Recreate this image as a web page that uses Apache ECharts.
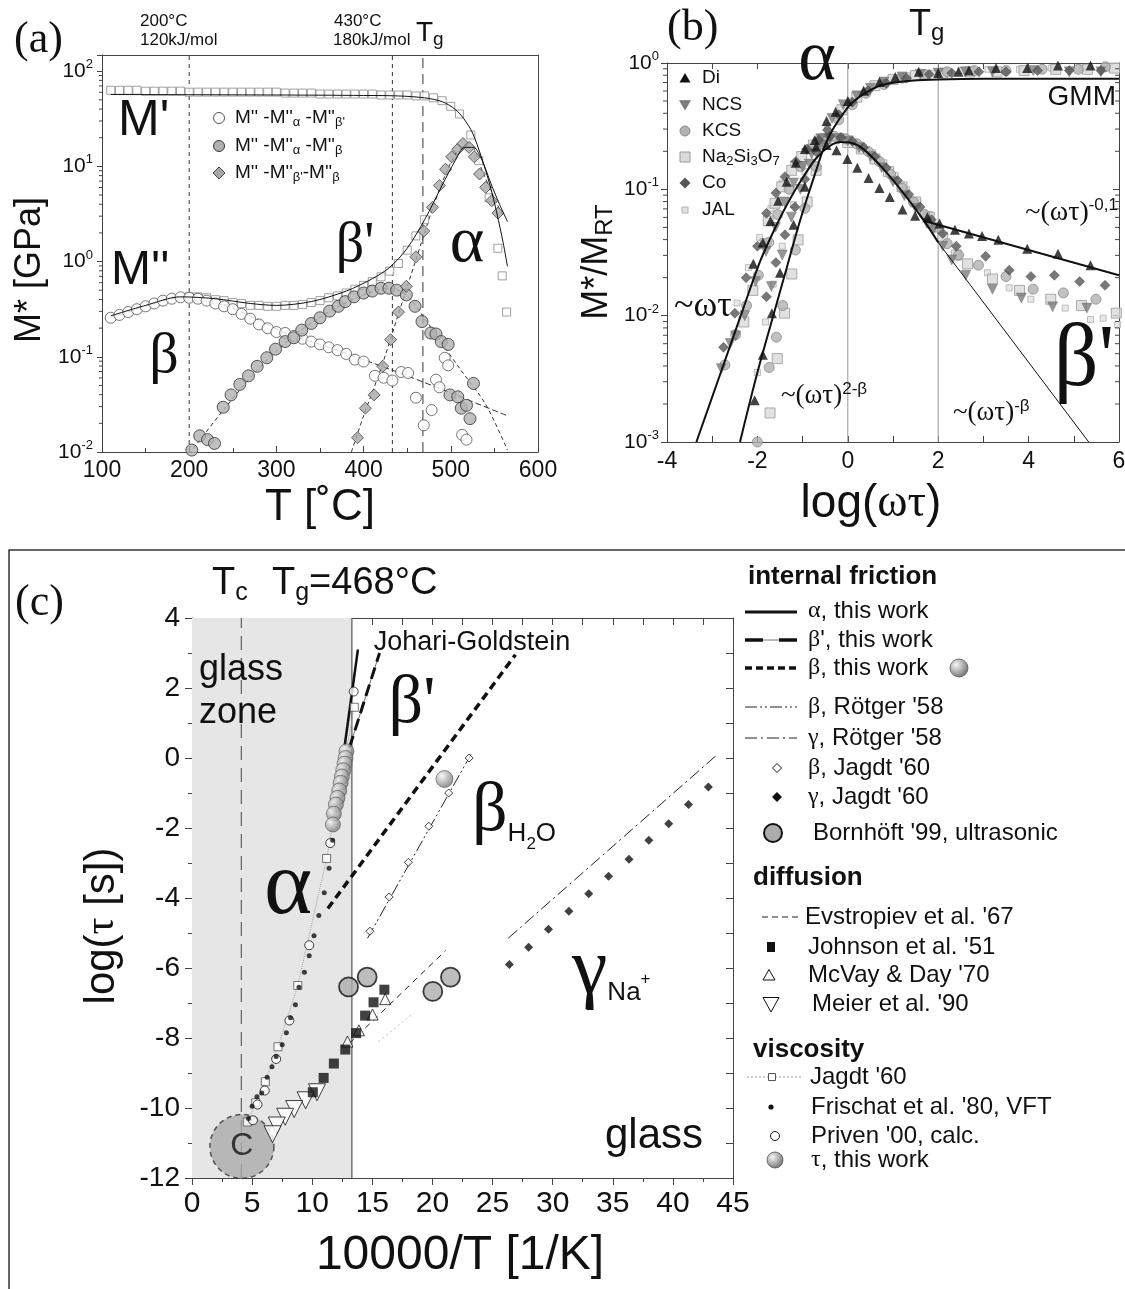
<!DOCTYPE html>
<html>
<head>
<meta charset="utf-8">
<script src="https://cdn.jsdelivr.net/npm/echarts@6/dist/echarts.min.js"></script>
<style>
html,body{margin:0;padding:0;background:#ffffff;}
#chart{width:1125px;height:1289px;}
</style>
</head>
<body>
<div id="chart"></div>
<script>
// ================= DATA =================
// ---- Panel (a): T [°C] vs log10(M*/GPa) ----
const aMpSq = [[110,1.80],[120,1.80],[130,1.80],[140,1.80],[150,1.79],[160,1.79],[170,1.79],[180,1.79],[190,1.79],[200,1.78],[210,1.78],[220,1.78],[230,1.78],[240,1.78],[250,1.78],[260,1.78],[270,1.78],[280,1.78],[290,1.78],[300,1.78],[310,1.77],[320,1.77],[330,1.77],[340,1.77],[350,1.76],[360,1.76],[370,1.76],[380,1.76],[390,1.76],[400,1.76],[410,1.76],[420,1.75],[430,1.75],[440,1.75],[450,1.75],[460,1.74],[470,1.74],[480,1.72],[490,1.69],[500,1.63],[510,1.55],[523,1.33],[532,1.06],[544,0.67],[554,0.14],[559,-0.15],[564,-0.53]];
const aMppSq = [[200,-0.37],[210,-0.37],[220,-0.38],[230,-0.40],[240,-0.41],[250,-0.43],[260,-0.44],[270,-0.46],[280,-0.46],[290,-0.47],[300,-0.47],[310,-0.46],[320,-0.46],[330,-0.45],[340,-0.43],[350,-0.41],[360,-0.38],[370,-0.36],[380,-0.33],[390,-0.29],[400,-0.25],[410,-0.21],[420,-0.16],[430,-0.10],[440,-0.02],[450,0.12],[460,0.27],[470,0.44]];
const aBetaOpen = [[110,-0.59],[120,-0.56],[130,-0.53],[140,-0.50],[150,-0.47],[160,-0.44],[170,-0.41],[180,-0.39],[190,-0.375],[200,-0.38],[210,-0.39],[220,-0.41],[230,-0.44],[240,-0.47],[250,-0.50],[260,-0.55],[270,-0.60],[280,-0.66],[290,-0.70],[300,-0.74],[310,-0.75],[320,-0.78],[330,-0.81],[340,-0.84],[350,-0.87],[360,-0.90],[370,-0.93],[380,-0.97],[390,-1.03],[400,-1.05],[413,-1.20],[423,-1.22],[433,-1.25],[443,-1.16],[451,-1.17],[460,-1.43],[469,-1.72],[478,-1.56],[483,-1.24],[487,-1.32],[493,-1.01],[497,-1.09],[513,-1.82],[518,-1.87]];
const aBetaPGray = [[203,-1.98],[212,-1.83],[221,-1.87],[229,-1.91],[239,-1.53],[248,-1.40],[258,-1.29],[268,-1.20],[278,-1.10],[289,-1.01],[299,-0.92],[310,-0.84],[320,-0.80],[329,-0.72],[340,-0.65],[350,-0.59],[361,-0.52],[371,-0.47],[379,-0.42],[389,-0.37],[400,-0.33],[410,-0.31],[420,-0.28],[429,-0.28],[438,-0.30],[449,-0.35],[459,-0.47],[467,-0.63],[477,-0.75],[483,-0.76],[489,-0.84],[497,-0.87],[499,-1.40],[508,-1.42],[512,-1.54],[518,-1.51],[522,-1.65],[526,-1.28]];
const aAlphaDiam = [[393,-1.85],[402,-1.54],[412,-1.40],[422,-1.10],[431,-0.82],[440,-0.53],[449,-0.26],[460,0.05],[469,0.32],[479,0.57],[487,0.80],[494,0.97],[501,1.10],[508,1.18],[514,1.24],[521,1.20],[527,1.10],[533,0.92],[540,0.78],[547,0.64],[554,0.51]];
const aFitMp = [[110,1.755],[300,1.75],[400,1.745],[440,1.74],[470,1.72],[490,1.68],[505,1.60],[515,1.50],[525,1.35],[535,1.10],[545,0.80],[553,0.50],[560,0.20],[565,-0.05]];
const aFitMpp = [[110,-0.57],[150,-0.46],[190,-0.37],[230,-0.39],[270,-0.44],[300,-0.46],[340,-0.42],[380,-0.31],[410,-0.18],[430,-0.06],[450,0.14],[470,0.44],[490,0.80],[505,1.06],[516,1.20],[526,1.20],[536,1.06],[546,0.82],[556,0.60],[565,0.42]];
const aFitBeta = [[110,-0.59],[150,-0.47],[190,-0.38],[230,-0.43],[270,-0.57],[310,-0.75],[350,-0.87],[400,-1.03],[450,-1.20],[500,-1.38],[565,-1.62]];
const aFitBetaP = [[200,-2.02],[240,-1.55],[280,-1.12],[320,-0.78],[360,-0.53],[400,-0.35],[430,-0.28],[450,-0.36],[470,-0.60],[490,-0.86],[510,-1.12],[540,-1.50],[565,-1.98]];
const aFitAlpha = [[386,-2.0],[400,-1.62],[420,-1.12],[440,-0.55],[460,0.02],[480,0.58],[500,1.04],[514,1.20],[524,1.20],[535,0.98],[548,0.70],[560,0.48]];
const aVLineT = [200, 433, 468];

// ---- Panel (b): log(ωτ) vs log10(M*/M_RT) ----
const bFitMp = [[-2.385,-3],[-2.0,-2.45],[-1.57,-1.90],[-1.35,-1.62],[-1.1,-1.30],[-0.91,-1.08],[-0.7,-0.85],[-0.55,-0.69],[-0.4,-0.57],[-0.245,-0.475],[-0.1,-0.40],[0.05,-0.33],[0.25,-0.27],[0.42,-0.23],[0.7,-0.18],[0.93,-0.16],[1.4,-0.14],[2.0,-0.13],[3.0,-0.125],[6.0,-0.125]];
const bFitMpp = [[-3.35,-3],[-2.8,-2.44],[-2.31,-1.94],[-1.94,-1.57],[-1.6,-1.30],[-1.3,-1.09],[-1.0,-0.91],[-0.69,-0.75],[-0.39,-0.655],[-0.17,-0.625],[0.05,-0.63],[0.34,-0.68],[0.79,-0.84],[1.23,-1.03],[1.67,-1.24],[2.0,-1.42]];
const bFitSlow = [[1.7,-1.25],[6.0,-1.68]];
const bFitBeta = [[2.0,-1.42],[5.33,-3.0]];
const bVLines = [0, 2];
const di = [[-2.09,-1.59],[-1.88,-1.42],[-1.71,-1.25],[-1.54,-1.09],[-1.35,-0.94],[-1.15,-0.79],[-0.95,-0.68],[-0.73,-0.61],[-0.47,-0.65],[-0.25,-0.69],[-0.01,-0.76],[0.21,-0.83],[0.46,-0.91],[0.70,-0.99],[0.93,-1.06],[1.21,-1.16],[1.49,-1.21],[1.76,-1.22],[2.03,-1.27],[2.37,-1.32],[2.68,-1.35],[2.97,-1.37],[3.33,-1.40],[3.97,-1.47],[4.65,-1.51],[5.37,-1.60],
  [-2.06,-2.67],[-1.88,-2.31],[-1.68,-1.98],[-1.50,-1.66],[-1.2,-1.28],[-0.95,-0.98],[-0.7,-0.66],[-0.47,-0.46],[-0.27,-0.385],[0.0,-0.30],[0.35,-0.22],[0.7,-0.15],[1.05,-0.11],[1.57,-0.07],[2.0,-0.08],[2.45,-0.07],[2.68,-0.06],[3.28,-0.04],[3.97,-0.04],[4.65,-0.02],[5.37,-0.02]];
const ncs = [[-2.8,-2.42],[-2.6,-2.22],[-2.48,-2.16],[-2.28,-2.0],[-2.04,-1.73],[-1.81,-1.49],[-1.6,-1.30],[-1.4,-1.10],[-1.2,-0.95],[-1.0,-0.82],[-0.8,-0.72],[-0.6,-0.65],[-0.4,-0.60],[-0.2,-0.60],[0.0,-0.62],[0.25,-0.67],[0.5,-0.74],[0.75,-0.83],[1.0,-0.94],[1.25,-1.05],[1.5,-1.15],[1.75,-1.27],[1.89,-1.32],[2.1,-1.45],[2.3,-1.56],[2.61,-1.68],[3.2,-1.79],[3.84,-1.86],[4.53,-1.93],[5.29,-1.94],
  [-1.69,-1.77],[-1.45,-1.52],[-1.25,-1.22],[-1.05,-1.0],[-0.85,-0.80],[-0.6,-0.60],[-0.35,-0.44],[-0.1,-0.33],[0.2,-0.26],[0.5,-0.20],[0.8,-0.15],[1.2,-0.11],[1.6,-0.09],[2.0,-0.08],[2.6,-0.07],[3.2,-0.07],[4.1,-0.06],[4.9,-0.07],[5.6,-0.07]];
const kcs = [[-2.72,-2.39],[-2.48,-2.15],[-2.24,-1.92],[-1.98,-1.68],[-1.75,-1.42],[-1.55,-1.20],[-1.3,-1.0],[-1.05,-0.82],[-0.8,-0.68],[-0.55,-0.60],[-0.3,-0.58],[-0.05,-0.60],[0.2,-0.64],[0.45,-0.70],[0.7,-0.78],[0.95,-0.88],[1.2,-0.99],[1.45,-1.10],[1.7,-1.20],[1.95,-1.30],[2.2,-1.43],[2.45,-1.52],[2.89,-1.60],[3.5,-1.69],[4.1,-1.79],[4.77,-1.82],[5.49,-1.87],
  [-2.0,-3.0],[-1.74,-2.41],[-1.58,-2.17],[-1.44,-1.92],[-1.16,-1.48],[-0.95,-1.15],[-0.7,-0.82],[-0.45,-0.60],[-0.2,-0.45],[0.1,-0.33],[0.4,-0.24],[0.8,-0.17],[1.2,-0.12],[1.7,-0.09],[2.2,-0.07],[2.8,-0.06],[3.5,-0.06],[4.3,-0.05],[5.1,-0.05],[5.7,-0.03]];
const nas = [[-2.3,-2.05],[-2.1,-1.80],[-1.83,-1.43],[-1.76,-1.25],[-1.61,-1.11],[-1.46,-0.98],[-1.24,-0.85],[-1.02,-0.74],[-0.76,-0.65],[-0.54,-0.60],[-0.3,-0.60],[0.0,-0.63],[0.3,-0.68],[0.6,-0.76],[0.9,-0.86],[1.2,-0.98],[1.5,-1.10],[1.8,-1.22],[2.1,-1.38],[2.4,-1.52],[2.65,-1.59],[3.2,-1.71],[3.8,-1.80],[4.49,-1.87],[5.17,-1.92],[5.94,-1.98],
  [-1.72,-2.77],[-1.56,-2.34],[-1.40,-1.98],[-1.24,-1.67],[-1.1,-1.40],[-0.9,-1.10],[-0.7,-0.85],[-0.5,-0.62],[-0.13,-0.37],[0.2,-0.27],[0.6,-0.18],[1.0,-0.13],[1.5,-0.10],[2.1,-0.08],[2.7,-0.07],[3.3,-0.07],[3.9,-0.06],[4.6,-0.05],[5.3,-0.05],[5.9,-0.04]];
const co = [[-2.75,-2.25],[-2.5,-1.98],[-2.25,-1.70],[-2.0,-1.45],[-1.8,-1.19],[-1.59,-1.03],[-1.39,-0.90],[-1.15,-0.78],[-0.9,-0.68],[-0.65,-0.61],[-0.4,-0.58],[-0.15,-0.59],[0.1,-0.62],[0.35,-0.67],[0.6,-0.74],[0.85,-0.83],[1.1,-0.93],[1.35,-1.04],[1.6,-1.14],[1.85,-1.24],[2.1,-1.35],[2.4,-1.45],[3.05,-1.53],[3.57,-1.64],[4.05,-1.69],[4.57,-1.68],[5.13,-1.73],[5.69,-1.76],
  [-1.8,-1.85],[-1.59,-1.58],[-1.39,-1.36],[-1.17,-1.14],[-0.95,-0.92],[-0.7,-0.70],[-0.45,-0.53],[-0.2,-0.41],[0.1,-0.31],[0.45,-0.22],[0.85,-0.16],[1.3,-0.12],[1.8,-0.09],[2.3,-0.08],[2.9,-0.07],[3.5,-0.07],[4.2,-0.06],[4.9,-0.06],[5.6,-0.06]];
const jal = [[-2.45,-1.90],[-2.2,-1.62],[-1.95,-1.38],[-1.7,-1.15],[-1.45,-0.95],[-1.2,-0.80],[-0.95,-0.70],[-0.7,-0.62],[-0.45,-0.58],[-0.2,-0.58],[0.05,-0.60],[0.3,-0.65],[0.55,-0.71],[0.8,-0.79],[1.05,-0.89],[1.3,-1.0],[1.55,-1.10],[1.8,-1.20],[2.05,-1.33],[2.45,-1.53],[3.09,-1.66],[3.57,-1.78],[4.05,-1.87],[4.81,-1.94],[5.37,-2.03],[5.65,-2.02],[5.97,-2.07],
  [-2.0,-2.45],[-1.82,-2.05],[-1.65,-1.75],[-1.45,-1.45],[-1.2,-1.12],[-0.95,-0.86],[-0.7,-0.64],[-0.45,-0.50],[-0.2,-0.40],[0.1,-0.30],[0.4,-0.22],[0.8,-0.15],[1.3,-0.10],[1.9,-0.08],[2.5,-0.06],[3.1,-0.05],[3.8,-0.05],[4.5,-0.04],[5.2,-0.04],[5.8,-0.04]];

// ---- Panel (c): 10000/T [1/K] vs log10(tau/s) ----
const cGlassZone = [0, 13.3];
const cTc = 4.1;
const cAlphaLine = [[12.7,0.35],[13.8,3.1]];
const cBetaPLine = [[13.1,0.3],[15.6,3.0]];
const cBetaLine = [[11.3,-4.3],[26.9,2.95]];
const cBetaRoetger = [[14.6,-5.15],[23.2,0.1]];
const cGammaRoetger = [[26.3,-5.15],[43.7,0.1]];
const cEvstropiev = [[13.1,-8.15],[21.1,-5.5]];
const cEvstropievFaint = [[15.5,-8.1],[18.4,-7.3]];
const cBetaJagdt = [[14.8,-4.95],[16.4,-3.97],[18.0,-2.98],[19.7,-1.95],[21.35,-1.0],[23.05,0.0]];
const cGammaJagdt = [[26.4,-5.9],[28.0,-5.41],[29.65,-4.89],[31.35,-4.38],[33.0,-3.88],[34.65,-3.38],[36.35,-2.89],[38.0,-2.35],[39.65,-1.88],[41.3,-1.33],[42.95,-0.83]];
const cBornhoeft = [[13.02,-6.54],[14.57,-6.26],[20.03,-6.67],[21.5,-6.26]];
const cJohnson = [[16.0,-6.62],[15.1,-6.98],[14.4,-7.36],[13.65,-7.86],[12.75,-8.33],[11.8,-8.73],[10.95,-9.14],[10.05,-9.55]];
const cMcVay = [[16.07,-6.89],[15.02,-7.33],[13.88,-7.78],[12.93,-8.1]];
const cMeier = [[10.4,-9.55],[9.45,-9.78],[8.5,-10.03],[7.75,-10.25],[7.05,-10.5],[6.7,-10.75]];
const cJagdtVisc = [[13.5,1.45],[11.2,-2.87],[8.8,-6.5],[7.15,-8.25],[6.1,-9.25],[5.3,-9.85],[4.6,-10.4]];
const cFrischat = [[11.7,-2.35],[11.4,-3.15],[11.0,-3.85],[10.55,-4.5],[10.15,-5.08],[9.75,-5.65],[9.35,-6.12],[8.9,-6.55],[8.6,-7.05],[8.2,-7.42],[7.85,-7.85],[7.5,-8.19],[7.0,-8.53],[6.65,-8.82],[6.25,-9.12],[5.8,-9.57],[5.4,-9.68],[5.0,-9.95],[4.7,-10.3]];
const cPriven = [[13.45,1.9],[11.5,-2.43],[9.75,-5.35],[8.1,-7.5],[7.0,-8.6],[6.05,-9.5],[5.45,-9.9],[5.07,-10.35]];
const cTau = [[12.85,0.19],[12.77,0.0],[12.69,-0.16],[12.58,-0.35],[12.47,-0.53],[12.36,-0.71],[12.25,-0.93],[12.1,-1.14],[11.97,-1.33],[11.8,-1.59],[11.72,-1.9]];
const cBetaThisWork = [[21.0,-0.6]];
const cCritical = [[4.15,-11.1]];

// ================= BUILD =================
const SANS = '"Liberation Sans", Arial, Helvetica, sans-serif';
const SERIF = '"Liberation Serif", "Times New Roman", Times, serif';
const INK = '#111111';
const AX = '#444444';
const SPHERE = {type:'radial', x:0.35, y:0.33, r:0.75, colorStops:[{offset:0,color:'#f6f6f6'},{offset:1,color:'#6a6a6a'}]};

function ax(gi, pos, min, max, interval, o) {
  o = o || {};
  const a = {
    type: 'value', gridIndex: gi, position: pos, min: min, max: max, interval: interval,
    axisLine: { show: true, onZero: false, lineStyle: { color: AX, width: 1 } },
    axisTick: { show: o.tick !== false, inside: !!o.inside, length: o.tl || 6, lineStyle: { color: AX, width: 1 } },
    minorTick: { show: !!o.minor, splitNumber: o.minor || 2, length: o.ml || 4, lineStyle: { color: AX, width: 1 } },
    axisLabel: { show: !!o.fs, fontSize: o.fs || 12, fontFamily: SANS, color: INK, margin: o.margin || 6 },
    splitLine: { show: false }, minorSplitLine: { show: false }
  };
  if (o.fmt) { a.axisLabel.formatter = o.fmt; a.axisLabel.rich = o.rich; }
  return a;
}
const logFmt = function (v) { const r = Math.round(v); return Math.abs(v - r) < 1e-6 ? '{b|10}{s|' + r + '}' : ''; };
const logRich = { b: { fontSize: 21, fontFamily: SANS, color: INK, lineHeight: 26 }, s: { fontSize: 13, fontFamily: SANS, color: INK, verticalAlign: 'top', lineHeight: 14 } };

function lineS(xi, yi, data, ls, z, smooth) {
  return { type: 'line', xAxisIndex: xi, yAxisIndex: yi, data: data, showSymbol: false, symbol: 'none',
    smooth: smooth || false, silent: true, z: z || 3, clip: true,
    lineStyle: Object.assign({ color: INK, width: 1 }, ls) };
}
function scat(xi, yi, data, sym, size, style, z, rot) {
  return { type: 'scatter', xAxisIndex: xi, yAxisIndex: yi, data: data, symbol: sym, symbolSize: size,
    symbolRotate: rot || 0, silent: true, z: z || 4, clip: false, itemStyle: style };
}
function logMinor(xi, yi, decades, xAt, len) {
  const d = [];
  decades.forEach(function (n) { for (let k = 2; k <= 9; k++) d.push([xAt, n + Math.log10(k)]); });
  return { type: 'custom', xAxisIndex: xi, yAxisIndex: yi, silent: true, z: 5, clip: false, data: d,
    renderItem: function (p, api) {
      const c = api.coord([api.value(0), api.value(1)]);
      return { type: 'line', shape: { x1: c[0], y1: c[1], x2: c[0] + len, y2: c[1] }, style: { stroke: AX, lineWidth: 1 } };
    } };
}
function vline(xi, yi, x, y0, y1, ls, z) { return lineS(xi, yi, [[x, y0], [x, y1]], ls, z); }

// graphic helpers
function R(size, ff, va, extra) {
  return Object.assign({ fontSize: size, fontFamily: ff || SANS, fill: INK, verticalAlign: va || 'middle', lineHeight: Math.round(size * 1.15) }, extra || {});
}
function T(x, y, text, size, o) {
  o = o || {};
  const st = { text: text, fontSize: size, fontFamily: o.ff || SANS, fontWeight: o.fw || 'normal', fill: o.c || INK,
    align: o.al || 'left', verticalAlign: o.va || 'middle', lineHeight: Math.round(size * 1.15) };
  if (o.rich) st.rich = o.rich;
  return { type: 'text', x: x, y: y, rotation: o.rot || 0, z: 60, silent: true, style: st };
}
function L(x1, y1, x2, y2, w, dash, c) {
  const st = { stroke: c || INK, lineWidth: w || 1 };
  if (dash) st.lineDash = dash;
  return { type: 'line', z: 60, silent: true, shape: { x1: x1, y1: y1, x2: x2, y2: y2 }, style: st };
}
function P(cx, cy, pts, fill, stroke, w) {
  return { type: 'polygon', z: 61, silent: true, shape: { points: pts.map(function (p) { return [cx + p[0], cy + p[1]]; }) },
    style: { fill: fill, stroke: stroke || null, lineWidth: w || 1 } };
}
function C(cx, cy, r, fill, stroke, w) {
  return { type: 'circle', z: 61, silent: true, shape: { cx: cx, cy: cy, r: r }, style: { fill: fill, stroke: stroke || null, lineWidth: w || 1 } };
}
function Rc(cx, cy, wd, ht, fill, stroke, w) {
  return { type: 'rect', z: 61, silent: true, shape: { x: cx - wd / 2, y: cy - ht / 2, width: wd, height: ht }, style: { fill: fill, stroke: stroke || null, lineWidth: w || 1 } };
}
const sphereG = function () { return new echarts.graphic.RadialGradient(0.35, 0.33, 0.75, [{ offset: 0, color: '#f6f6f6' }, { offset: 1, color: '#6a6a6a' }]); };
const subR = function (s) { return R(s, SANS, 'bottom'); };
const greek = function (s) { return R(s, SERIF, 'middle'); };

const series = [];
// ---------- panel (a) ----------
aVLineT.forEach(function (t, i) {
  series.push(vline(0, 0, t, -2, 2.17, { color: '#333', width: 1, type: i === 2 ? [10, 6] : [4, 4] }, 2));
});
series.push(lineS(0, 0, aFitBeta, { color: '#333', width: 1, type: [6, 3] }, 3, 0.3));
series.push(lineS(0, 0, aFitBetaP, { color: '#333', width: 1, type: [4, 3] }, 3, 0.3));
series.push(lineS(0, 0, aFitAlpha, { color: '#333', width: 1, type: [4, 3] }, 3, 0.3));
series.push(scat(0, 0, aMpSq, 'rect', 8, { color: '#ffffff', borderColor: '#8a8a8a', borderWidth: 1 }, 4));
series.push(scat(0, 0, aMppSq, 'rect', 8, { color: '#ffffff', borderColor: '#8a8a8a', borderWidth: 1 }, 4));
series.push(scat(0, 0, aBetaOpen, 'circle', 11, { color: '#ffffff', borderColor: '#555', borderWidth: 1 }, 5));
series.push(scat(0, 0, aBetaPGray, 'circle', 12, { color: '#b0b0b0', borderColor: '#333', borderWidth: 1 }, 5));
series.push(scat(0, 0, aAlphaDiam, 'diamond', 12, { color: '#a8a8a8', borderColor: '#444', borderWidth: 1 }, 5));
series.push(lineS(0, 0, aFitMp, { color: '#111', width: 1 }, 6, 0.3));
series.push(lineS(0, 0, aFitMpp, { color: '#111', width: 1 }, 6, 0.3));
series.push(logMinor(0, 0, [-2, -1, 0, 1], 100, -3));

// ---------- panel (b) ----------
bVLines.forEach(function (x) { series.push(vline(2, 2, x, -3, 0, { color: '#999', width: 1 }, 2)); });
series.push(scat(2, 2, jal, 'rect', 6, { color: '#e2e2e2', borderColor: '#b0b0b0', borderWidth: 1 }, 4));
series.push(scat(2, 2, nas, 'rect', 10, { color: '#dadada', borderColor: '#9a9a9a', borderWidth: 1 }, 4));
series.push(scat(2, 2, kcs, 'circle', 10, { color: '#b2b2b2', borderColor: '#8a8a8a', borderWidth: 1 }, 4));
series.push(scat(2, 2, ncs, 'triangle', 10, { color: '#7c7c7c', borderColor: '#666', borderWidth: 0.5 }, 4, 180));
series.push(scat(2, 2, co, 'diamond', 10, { color: '#565656', borderColor: '#333', borderWidth: 0.5 }, 4));
series.push(scat(2, 2, di, 'triangle', 10, { color: '#111' }, 5));
series.push(lineS(2, 2, bFitMp, { color: '#111', width: 2 }, 6, 0.3));
series.push(lineS(2, 2, bFitMpp, { color: '#111', width: 2 }, 6, 0.3));
series.push(lineS(2, 2, bFitSlow, { color: '#111', width: 2 }, 6));
series.push(lineS(2, 2, bFitBeta, { color: '#111', width: 1 }, 6));
series.push(logMinor(2, 2, [-3, -2, -1], -4, -4));
series.push(logMinor(2, 2, [-3, -2, -1], 6, -4));

// ---------- panel (c) ----------
const zoneSeries = vline(4, 4, cTc, -12, 4, { color: '#444', width: 1, type: [14, 8] }, 2);
zoneSeries.markArea = { silent: true, itemStyle: { color: '#e6e6e6' }, data: [[{ xAxis: cGlassZone[0], yAxis: -12 }, { xAxis: cGlassZone[1], yAxis: 4 }]] };
series.push(zoneSeries);
series.push(vline(4, 4, cGlassZone[1], -12, 4, { color: '#555', width: 1.2 }, 2));
series.push(scat(4, 4, cCritical, 'circle', 64, { color: '#ababab', borderColor: '#333', borderWidth: 1.5, borderType: [5, 4] }, 2));
series[series.length - 1].label = { show: true, position: 'inside', formatter: 'C', fontSize: 32, fontFamily: SANS, color: INK };
series.push(lineS(4, 4, cJagdtVisc, { color: '#a0a0a0', width: 1, type: 'dotted' }, 3));
series.push(lineS(4, 4, cEvstropiev, { color: '#222', width: 1, type: [6, 5] }, 3));
series.push(lineS(4, 4, cEvstropievFaint, { color: '#bbb', width: 1, type: [2, 3] }, 3));
series.push(lineS(4, 4, cBetaRoetger, { color: '#222', width: 1, type: [12, 3, 2, 3, 2, 3] }, 3));
series.push(lineS(4, 4, cGammaRoetger, { color: '#222', width: 1, type: [12, 4, 2, 4] }, 3));
series.push(lineS(4, 4, cBetaLine, { color: '#111', width: 3.5, type: [8, 5] }, 3));
series.push(lineS(4, 4, cBetaPLine, { color: '#777', width: 1 }, 3));
series.push(lineS(4, 4, cBetaPLine, { color: '#111', width: 3, type: [12, 6] }, 3));
series.push(lineS(4, 4, cAlphaLine, { color: '#111', width: 2.5 }, 3));
series.push(scat(4, 4, cMeier, 'triangle', 17, { color: '#ffffff', borderColor: '#111', borderWidth: 1 }, 4, 180));
series.push(scat(4, 4, cMcVay, 'triangle', 11, { color: '#ffffff', borderColor: '#111', borderWidth: 1 }, 4));
series.push(scat(4, 4, cJohnson, 'rect', 10, { color: '#111' }, 4));
series.push(scat(4, 4, cJagdtVisc, 'rect', 8, { color: '#ffffff', borderColor: '#555', borderWidth: 1 }, 4));
series.push(scat(4, 4, cPriven, 'circle', 9, { color: '#ffffff', borderColor: '#111', borderWidth: 1 }, 5));
series.push(scat(4, 4, cFrischat, 'circle', 5, { color: '#111' }, 6));
series.push(scat(4, 4, cBetaJagdt, 'diamond', 8, { color: '#ffffff', borderColor: '#111', borderWidth: 1 }, 4));
series.push(scat(4, 4, cGammaJagdt, 'diamond', 9, { color: '#111' }, 4));
series.push(scat(4, 4, cBornhoeft, 'circle', 19, { color: '#acacac', borderColor: '#111', borderWidth: 1.8 }, 5));
series.push(scat(4, 4, cTau, 'circle', 15, { color: SPHERE, borderColor: '#555', borderWidth: 0.8 }, 6));
series.push(scat(4, 4, cBetaThisWork, 'circle', 17, { color: SPHERE, borderColor: '#555', borderWidth: 0.8 }, 6));

// ---------- graphics: texts and legends ----------
const g = [];
// panel (c) outer frame
g.push({ type: 'rect', z: 1, silent: true, shape: { x: 9, y: 550, width: 1130, height: 760 }, style: { fill: null, stroke: '#333', lineWidth: 1.5 } });
// panel (a)
g.push(T(14, 40, '(a)', 44, { ff: SERIF }));
g.push(T(140, 21, '200°C', 17));
g.push(T(140, 40, '120kJ/mol', 17));
g.push(T(334, 21, '430°C', 17));
g.push(T(333, 40, '180kJ/mol', 17));
g.push(T(416, 33, 'T{g|g}', 28, { rich: { g: subR(19) } }));
g.push(T(118, 121, "M'", 50));
g.push(T(111, 271, "M''", 48));
g.push(T(164, 357, 'β', 58, { ff: SERIF, al: 'center' }));
g.push(T(355, 246, "β'", 56, { ff: SERIF, al: 'center' }));
g.push(T(467, 244, 'α', 66, { ff: SERIF, al: 'center' }));
g.push(T(320, 508, 'T [˚C]', 44, { al: 'center' }));
g.push(T(30, 270, 'M* [GPa]', 36, { al: 'center', rot: Math.PI / 2 }));
g.push(C(219, 118, 5.5, '#ffffff', '#555', 1));
g.push(C(219, 146, 5.5, '#b0b0b0', '#333', 1));
g.push(P(219, 173, [[0, -6], [6, 0], [0, 6], [-6, 0]], '#a8a8a8', '#444', 1));
g.push(T(235, 118, "M'' -M''{s|α} -M''{s|β'}", 19, { rich: { s: subR(13) } }));
g.push(T(235, 146, "M'' -M''{s|α} -M''{s|β}", 19, { rich: { s: subR(13) } }));
g.push(T(235, 173, "M'' -M''{s|β'}-M''{s|β}", 19, { rich: { s: subR(13) } }));
// panel (b)
g.push(T(667, 28, '(b)', 44, { ff: SERIF }));
g.push(T(909, 25, 'T{g|g}', 36, { rich: { g: subR(24) } }));
g.push(T(817, 60, 'α', 72, { ff: SERIF, al: 'center' }));
g.push(T(1116, 97, 'GMM', 28, { al: 'right' }));
g.push(T(1118, 213, '~(ωτ){s|-0,1}', 28, { ff: SERIF, al: 'right', rich: { s: R(17, SANS, 'top') } }));
g.push(T(674, 307, '~ωτ', 36, { ff: SERIF }));
g.push(T(781, 396, '~(ωτ){s|2-β}', 27, { ff: SERIF, rich: { s: R(17, SANS, 'top') } }));
g.push(T(953, 413, '~(ωτ){s|-β}', 27, { ff: SERIF, rich: { s: R(17, SANS, 'top') } }));
g.push(T(1084, 362, "β'", 88, { ff: SERIF, al: 'center' }));
g.push(T(597, 262, 'M*/M{s|RT}', 36, { al: 'center', rot: Math.PI / 2, rich: { s: subR(24) } }));
g.push(T(871, 504, 'log({g|ωτ})', 46, { al: 'center', rich: { g: greek(46) } }));
const bLegY = [78, 105, 131, 157, 183, 210];
g.push(P(685, bLegY[0], [[0, -5], [5.5, 4.5], [-5.5, 4.5]], '#111'));
g.push(P(685, bLegY[1], [[-5.5, -4.5], [5.5, -4.5], [0, 5]], '#7c7c7c', '#666', 0.5));
g.push(C(685, bLegY[2], 5, '#b2b2b2', '#8a8a8a', 1));
g.push(Rc(685, bLegY[3], 10, 10, '#dadada', '#9a9a9a', 1));
g.push(P(685, bLegY[4], [[0, -5.5], [5.5, 0], [0, 5.5], [-5.5, 0]], '#565656'));
g.push(Rc(685, bLegY[5], 6, 6, '#e2e2e2', '#b0b0b0', 1));
g.push(T(702, bLegY[0], 'Di', 19));
g.push(T(702, bLegY[1], 'NCS', 19));
g.push(T(702, bLegY[2], 'KCS', 19));
g.push(T(702, bLegY[3], 'Na{s|2}Si{s|3}O{s|7}', 19, { rich: { s: subR(13) } }));
g.push(T(702, bLegY[4], 'Co', 19));
g.push(T(702, bLegY[5], 'JAL', 19));
// panel (c)
g.push(T(15, 603, '(c)', 44, { ff: SERIF }));
g.push(T(212, 584, 'T{s|c}', 38, { rich: { s: subR(25) } }));
g.push(T(272, 584, 'T{s|g}=468°C', 38, { rich: { s: subR(25) } }));
g.push(T(199, 670, 'glass', 36));
g.push(T(199, 713, 'zone', 36));
g.push(T(472, 643, 'Johari-Goldstein', 27, { al: 'center' }));
g.push(T(412, 704, "β'", 68, { ff: SERIF, al: 'center' }));
g.push(T(288, 889, 'α', 92, { ff: SERIF, al: 'center' }));
g.push(T(472, 812, 'β{s|H}{t|2}{s|O}', 70, { ff: SERIF, rich: { s: R(26, SANS, 'bottom', { padding: [0, 0, 6, 0] }), t: R(17, SANS, 'bottom') } }));
g.push(T(572, 972, 'γ{s|Na}{t|+}', 80, { ff: SERIF, rich: { s: R(26, SANS, 'bottom', { padding: [0, 0, 12, 0] }), t: R(17, SANS, 'bottom', { padding: [0, 0, 30, 0] }) } }));
g.push(T(605, 1136, 'glass', 42));
g.push(T(460, 1256, '10000/T [1/K]', 48, { al: 'center' }));
g.push(T(102, 926, 'log({g|τ} [s])', 42, { al: 'center', rot: Math.PI / 2, rich: { g: greek(42) } }));
// legend (c)
const LF = 24;
const gk = { g: greek(LF) };
g.push(T(748, 577, 'internal friction', 26, { fw: 'bold' }));
g.push(L(745, 612, 797, 612, 3));
g.push(T(808, 611, '{g|α}, this work', LF, { rich: gk }));
g.push(L(745, 640, 763, 640, 3.5)); g.push(L(763, 640, 779, 640, 1, null, '#777')); g.push(L(779, 640, 797, 640, 3.5));
g.push(T(808, 640, "{g|β}', this work", LF, { rich: gk }));
g.push(L(745, 668, 797, 668, 3.5, [7, 4]));
g.push(T(808, 668, '{g|β}, this work', LF, { rich: gk }));
g.push(C(959, 668, 9, sphereG(), '#555', 0.8));
g.push(L(745, 707, 797, 707, 1, [12, 3, 2, 3, 2, 3], '#222'));
g.push(T(808, 707, "{g|β}, Rötger '58", LF, { rich: gk }));
g.push(L(745, 738, 797, 738, 1, [12, 4, 2, 4], '#222'));
g.push(T(808, 738, "{g|γ}, Rötger '58", LF, { rich: gk }));
g.push(P(777, 768, [[0, -4.5], [4.5, 0], [0, 4.5], [-4.5, 0]], '#ffffff', '#111', 1));
g.push(T(808, 768, "{g|β}, Jagdt '60", LF, { rich: gk }));
g.push(P(777, 797, [[0, -5], [5, 0], [0, 5], [-5, 0]], '#111'));
g.push(T(808, 797, "{g|γ}, Jagdt '60", LF, { rich: gk }));
g.push(C(773, 833, 9, '#acacac', '#111', 2));
g.push(T(813, 833, "Bornhöft '99, ultrasonic", LF));
g.push(T(753, 878, 'diffusion', 26, { fw: 'bold' }));
g.push(L(762, 917, 798, 917, 1, [6, 4], '#222'));
g.push(T(805, 917, "Evstropiev et al. '67", LF));
g.push(Rc(771, 947, 8, 10, '#111'));
g.push(T(808, 947, "Johnson et al. '51", LF));
g.push(P(769, 975, [[0, -5.5], [6, 5], [-6, 5]], '#ffffff', '#111', 1));
g.push(T(808, 975, "McVay & Day '70", LF));
g.push(P(771, 1004, [[-8, -6.5], [8, -6.5], [0, 8]], '#ffffff', '#111', 1));
g.push(T(812, 1004, "Meier et al. '90", LF));
g.push(T(753, 1050, 'viscosity', 26, { fw: 'bold' }));
g.push(L(747, 1077, 802, 1077, 1, [2, 2], '#999'));
g.push(Rc(772, 1077, 7, 7, '#ffffff', '#555', 1));
g.push(T(810, 1077, "Jagdt '60", LF));
g.push(C(771, 1107, 2.6, '#111'));
g.push(T(811, 1107, "Frischat et al. '80, VFT", LF));
g.push(C(775, 1136, 4.5, '#ffffff', '#111', 1));
g.push(T(811, 1136, "Priven '00, calc.", LF));
g.push(C(775, 1160, 8, sphereG(), '#555', 0.8));
g.push(T(811, 1160, '{g|τ}, this work', LF, { rich: gk }));

const option = {
  animation: false,
  backgroundColor: '#ffffff',
  grid: [
    { left: 102, top: 55, width: 436, height: 397, outerBoundsMode: 'none' },
    { left: 667, top: 63, width: 452, height: 379, outerBoundsMode: 'none' },
    { left: 192, top: 618, width: 541, height: 560, outerBoundsMode: 'none' }
  ],
  xAxis: [
    ax(0, 'bottom', 100, 600, 100, { fs: 23, inside: true, tl: 6, minor: 2, ml: 4, margin: 7 }),
    ax(0, 'top', 100, 600, 100, { tick: false }),
    ax(1, 'bottom', -4, 6, 2, { fs: 23, inside: true, tl: 6, minor: 2, ml: 6, margin: 8 }),
    ax(1, 'top', -4, 6, 2, { inside: true, tl: 6, minor: 2, ml: 6 }),
    ax(2, 'bottom', 0, 45, 5, { fs: 30, tl: 7, minor: 2, ml: 4, margin: 11 }),
    ax(2, 'top', 0, 45, 5, { inside: true, tl: 7, minor: 2, ml: 7 })
  ],
  yAxis: [
    ax(0, 'left', -2, 2.17, 1, { fs: 21, tl: 5, fmt: logFmt, rich: logRich, margin: 9 }),
    ax(0, 'right', -2, 2.17, 1, { tick: false }),
    ax(1, 'left', -3, 0, 1, { fs: 21, tl: 6, fmt: logFmt, rich: logRich, margin: 8 }),
    ax(1, 'right', -3, 0, 1, { inside: true, tl: 6 }),
    ax(2, 'left', -12, 4, 2, { fs: 28, tl: 7, minor: 2, ml: 4, margin: 12 }),
    ax(2, 'right', -12, 4, 2, { inside: true, tl: 7, minor: 2, ml: 7 })
  ],
  series: series,
  graphic: { elements: g }
};
const chart = echarts.init(document.getElementById('chart'), null, { renderer: 'canvas' });
chart.setOption(option);
</script>
</body>
</html>
